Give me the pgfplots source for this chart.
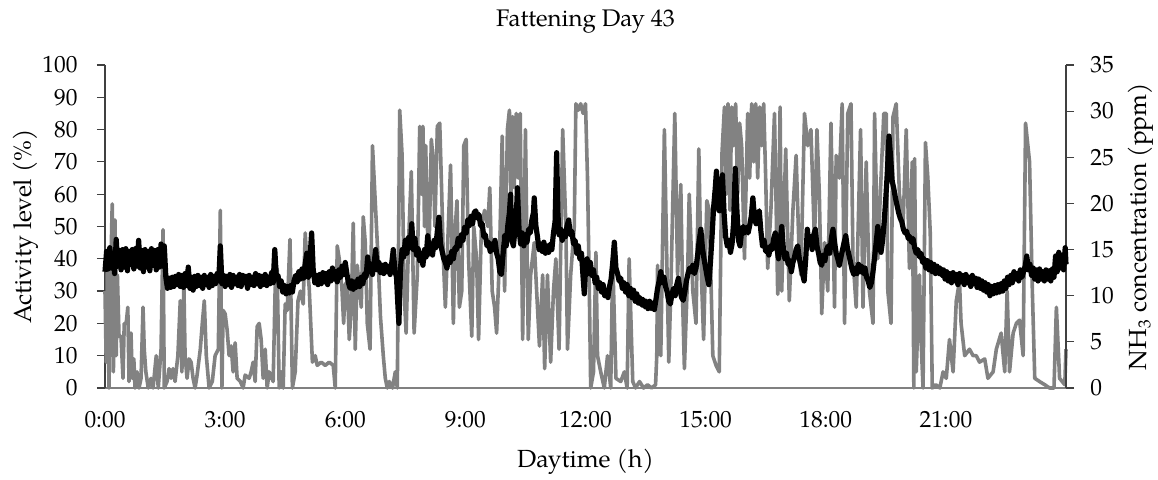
\documentclass[border=0pt]{standalone}
\usepackage{fontspec}
\setmainfont{TeX Gyre Pagella}
\usepackage{pgfplots}
\pgfplotsset{compat=1.18}
\usepackage{pgfplotstable}
\definecolor{actgray}{RGB}{130,130,130}

\pgfplotstableread{
h v
0.00 30
0.03 8
0.06 38
0.10 0
0.13 28
0.18 57
0.21 5
0.25 52
0.28 10
0.31 35
0.35 16
0.40 16
0.45 3
0.48 20
0.53 20
0.57 25
0.60 2
0.65 17
0.68 3
0.72 9
0.75 0
0.80 5
0.85 0
0.90 3
0.95 25
0.98 12
1.02 5
1.08 0
1.15 3
1.20 0
1.28 10
1.33 0
1.40 12
1.45 49
1.48 0
1.55 2
1.60 6
1.65 3
1.70 6
1.75 2
1.82 10
1.88 27
1.92 5
1.97 32
2.00 10
2.05 3
2.10 9
2.15 8
2.20 3
2.25 0
2.30 4
2.38 12
2.43 20
2.48 27
2.53 10
2.60 0
2.68 2
2.75 10
2.83 12
2.88 55
2.92 0
2.95 24
3.00 23
3.05 18
3.10 10
3.15 13
3.20 5
3.25 14
3.30 3
3.38 2
3.45 0
3.50 4
3.60 3
3.65 5
3.70 8
3.75 2
3.80 19
3.85 20
3.90 15
3.95 3
4.00 12
4.05 0
4.10 5
4.20 2
4.25 31
4.30 37
4.35 0
4.40 5
4.45 0
4.50 26
4.55 24
4.62 46
4.68 0
4.75 5
4.82 27
4.88 30
4.95 26
5.00 48
5.05 38
5.10 31
5.18 8
5.25 10
5.30 7
5.40 8
5.50 7
5.60 8
5.70 7
5.75 0
5.80 44
5.85 40
5.92 30
5.96 20
6.00 32
6.05 33
6.10 15
6.15 25
6.20 51
6.25 12
6.30 38
6.40 25
6.45 53
6.50 45
6.55 20
6.62 12
6.68 75
6.72 65
6.78 50
6.82 40
6.88 22
6.95 10
7.00 3
7.05 0
7.10 2
7.18 0
7.25 5
7.30 0
7.36 86
7.42 72
7.47 30
7.52 17
7.58 45
7.65 67
7.72 17
7.80 35
7.86 81
7.90 60
7.94 81
7.98 50
8.01 75
8.05 50
8.09 41
8.15 77
8.20 70
8.24 50
8.30 81
8.36 82
8.41 60
8.45 40
8.50 25
8.56 45
8.63 69
8.70 20
8.75 50
8.79 58
8.85 25
8.91 30
8.96 75
9.02 77
9.08 40
9.16 16
9.21 50
9.28 40
9.33 15
9.40 50
9.48 55
9.56 50
9.61 62
9.67 30
9.73 25
9.78 17
9.85 40
9.92 78
9.98 30
10.05 80
10.10 86
10.14 60
10.18 84
10.22 62
10.27 85
10.32 65
10.37 85
10.43 15
10.50 80
10.57 15
10.63 35
10.72 45
10.78 30
10.85 13
10.93 35
10.98 6
11.05 35
11.13 8
11.20 30
11.26 40
11.34 12
11.43 80
11.51 50
11.55 12
11.63 35
11.72 50
11.76 88
11.82 86
11.88 88
11.94 85
12.00 88
12.05 65
12.09 35
12.13 0
12.20 5
12.26 42
12.30 10
12.38 5
12.47 0
12.55 10
12.63 0
12.68 40
12.76 3
12.88 2
12.97 5
13.04 0
13.09 40
13.18 2
13.25 0
13.35 2
13.45 0
13.55 1
13.65 0
13.75 1
13.78 10
13.80 38
13.88 10
13.97 80
14.03 40
14.08 8
14.13 30
14.23 85
14.30 35
14.38 63
14.43 25
14.47 6
14.55 35
14.59 60
14.68 30
14.76 20
14.83 74
14.88 40
14.95 15
15.03 58
15.09 55
15.18 10
15.26 7
15.34 5
15.41 73
15.47 87
15.52 60
15.56 88
15.61 55
15.65 87
15.70 75
15.75 88
15.80 60
15.85 82
15.90 75
15.97 40
16.05 85
16.10 65
16.15 88
16.20 70
16.25 88
16.30 65
16.35 87
16.40 75
16.45 88
16.50 65
16.55 37
16.63 55
16.72 85
16.80 29
16.86 87
16.90 30
17.00 74
17.09 27
17.18 55
17.26 72
17.34 40
17.38 35
17.47 85
17.55 75
17.63 80
17.72 45
17.78 80
17.84 60
17.90 23
17.97 45
18.05 30
18.13 82
18.22 25
18.26 72
18.34 65
18.41 88
18.47 20
18.55 85
18.63 88
18.68 40
18.76 25
18.87 80
18.93 25
19.01 70
19.09 30
19.18 20
19.22 85
19.30 40
19.38 65
19.45 85
19.51 85
19.55 30
19.63 20
19.68 84
19.76 88
19.84 60
19.93 50
20.01 80
20.09 37
20.16 70
20.20 0
20.22 71
20.26 5
20.34 35
20.38 15
20.43 0
20.49 76
20.55 65
20.61 48
20.66 0
20.75 1
20.85 0
20.93 5
21.01 3
21.09 15
21.18 5
21.26 27
21.34 33
21.38 20
21.47 10
21.59 12
21.68 10
21.76 10
21.84 8
21.97 9
22.05 3
22.18 5
22.26 12
22.38 17
22.47 5
22.53 30
22.59 5
22.68 17
22.76 20
22.84 21
22.93 10
22.99 82
23.09 70
23.16 30
23.22 3
23.34 2
23.47 1
23.59 0
23.70 0
23.76 25
23.84 3
23.97 1
24.00 12
}\activity

\pgfplotstableread{
h c
0.00 12.6
0.04 14.8
0.08 12.9
0.12 15.2
0.16 13.0
0.20 14.6
0.24 12.4
0.28 16.1
0.32 13.2
0.36 14.9
0.40 12.8
0.44 15.0
0.48 13.1
0.52 15.1
0.56 12.7
0.60 14.8
0.64 13.4
0.68 15.0
0.72 12.9
0.76 15.1
0.80 13.2
0.84 16.0
0.88 13.0
0.92 14.9
0.96 12.6
1.00 15.0
1.04 13.1
1.08 14.8
1.12 12.7
1.16 15.1
1.20 13.3
1.24 14.9
1.28 12.8
1.32 15.0
1.36 13.1
1.40 15.6
1.44 13.2
1.48 15.4
1.52 12.0
1.56 10.8
1.60 11.9
1.64 10.9
1.68 12.0
1.72 11.0
1.76 12.1
1.80 11.2
1.84 12.3
1.88 11.0
1.92 12.2
1.96 10.9
2.00 12.4
2.04 11.1
2.08 13.1
2.12 10.8
2.16 12.0
2.20 10.6
2.24 12.1
2.28 11.0
2.32 12.2
2.36 11.1
2.40 12.0
2.44 10.8
2.48 12.2
2.52 11.2
2.56 12.0
2.60 10.9
2.64 12.3
2.68 11.1
2.72 12.1
2.76 11.3
2.80 12.4
2.84 11.6
2.88 15.4
2.92 11.3
2.96 12.2
3.00 11.0
3.04 12.1
3.08 11.2
3.12 12.3
3.16 10.9
3.20 12.2
3.24 11.3
3.28 12.0
3.32 11.1
3.36 12.3
3.40 11.0
3.44 12.2
3.48 11.4
3.52 12.1
3.56 10.8
3.60 12.2
3.64 11.2
3.68 12.0
3.72 11.1
3.76 12.4
3.80 11.3
3.84 12.2
3.88 11.0
3.92 12.1
3.96 11.2
4.00 12.3
4.04 11.1
4.08 12.0
4.12 11.3
4.16 12.5
4.20 11.4
4.24 15.0
4.28 11.9
4.32 12.2
4.36 11.0
4.40 11.6
4.44 10.4
4.48 11.1
4.52 10.2
4.56 11.0
4.60 10.3
4.64 11.1
4.68 10.4
4.72 11.6
4.76 12.2
4.80 11.5
4.84 12.6
4.88 11.8
4.92 12.9
4.96 11.9
5.00 13.5
5.04 14.6
5.08 12.0
5.12 14.0
5.16 16.8
5.20 12.8
5.24 11.4
5.28 12.2
5.32 11.2
5.36 12.3
5.40 11.3
5.44 12.5
5.48 11.5
5.52 12.4
5.56 11.2
5.60 12.6
5.64 11.6
5.68 13.0
5.72 11.8
5.76 12.6
5.80 11.5
5.84 12.8
5.88 12.0
5.92 13.2
5.96 12.3
6.00 13.6
6.04 12.4
6.08 11.4
6.12 10.8
6.16 11.6
6.20 10.7
6.24 11.5
6.28 10.9
6.32 11.8
6.36 11.0
6.40 12.0
6.44 11.3
6.48 12.4
6.52 12.0
6.56 14.2
6.60 12.6
6.64 13.4
6.68 12.3
6.72 13.5
6.76 15.0
6.80 12.8
6.84 13.6
6.88 12.5
6.92 13.3
6.96 12.4
7.00 13.4
7.04 12.6
7.08 13.2
7.12 12.3
7.16 13.5
7.20 15.0
7.24 12.7
7.28 12.0
7.32 8.5
7.34 7.0
7.38 13.0
7.42 15.0
7.46 14.2
7.50 16.0
7.54 14.6
7.58 16.3
7.62 15.2
7.66 17.8
7.70 15.0
7.74 16.2
7.78 14.4
7.82 15.1
7.86 13.8
7.90 14.6
7.94 13.3
7.98 15.0
8.02 14.2
8.06 16.5
8.10 14.6
8.14 15.6
8.18 14.4
8.22 16.0
8.26 15.2
8.30 17.0
8.34 18.5
8.38 15.6
8.42 14.8
8.46 14.0
8.50 13.6
8.54 13.0
8.58 14.2
8.62 13.6
8.66 14.8
8.70 14.0
8.74 15.2
8.78 15.0
8.82 16.2
8.86 15.4
8.90 16.6
8.94 16.0
8.98 17.4
9.02 16.8
9.06 18.2
9.10 17.6
9.14 18.6
9.18 17.8
9.22 19.0
9.26 19.2
9.30 18.4
9.34 18.8
9.38 17.6
9.42 17.8
9.46 16.4
9.50 16.6
9.54 15.4
9.58 15.8
9.62 14.8
9.66 15.6
9.70 15.0
9.74 16.0
9.78 14.6
9.82 14.0
9.86 12.6
9.90 12.3
9.94 14.4
9.98 16.5
10.02 15.4
10.06 17.6
10.10 19.0
10.13 21.0
10.16 16.0
10.20 15.4
10.24 17.2
10.28 19.5
10.30 21.7
10.34 17.2
10.38 15.6
10.42 16.8
10.46 15.4
10.50 16.6
10.54 15.8
10.58 17.2
10.62 16.8
10.66 18.2
10.70 19.0
10.72 20.6
10.76 17.6
10.80 16.4
10.84 15.0
10.88 15.6
10.92 14.8
10.96 15.8
11.00 14.6
11.04 15.4
11.08 14.7
11.12 15.6
11.16 15.0
11.20 16.8
11.24 18.0
11.28 25.5
11.31 19.0
11.34 16.6
11.38 17.2
11.42 16.0
11.46 17.0
11.50 16.4
11.54 17.6
11.58 18.2
11.62 16.6
11.66 17.0
11.70 15.6
11.74 16.0
11.78 14.6
11.82 15.4
11.86 14.0
11.90 14.6
11.94 12.0
11.97 10.2
12.00 12.8
12.04 14.0
12.08 12.4
12.12 13.6
12.16 12.2
12.20 12.8
12.24 11.4
12.28 12.0
12.32 10.8
12.36 11.4
12.40 10.4
12.44 11.2
12.48 10.0
12.52 10.6
12.56 9.8
12.60 11.0
12.64 11.8
12.68 13.6
12.72 15.8
12.76 13.0
12.80 12.4
12.84 11.6
12.88 11.9
12.92 10.8
12.96 11.4
13.00 10.4
13.04 11.2
13.08 10.0
13.12 10.8
13.16 9.8
13.20 10.6
13.24 9.4
13.28 10.2
13.32 9.2
13.36 9.8
13.40 9.0
13.44 9.6
13.48 8.8
13.52 9.4
13.56 8.6
13.60 9.4
13.64 8.6
13.68 9.2
13.72 8.5
13.76 9.6
13.80 10.8
13.84 11.6
13.88 12.6
13.92 11.4
13.96 12.0
14.00 11.0
14.04 10.4
14.08 9.4
14.12 9.1
14.16 10.2
14.20 10.8
14.24 10.0
14.28 11.2
14.32 11.9
14.36 10.6
14.40 9.8
14.44 9.5
14.48 10.4
14.52 11.6
14.56 12.4
14.60 13.0
14.64 12.6
14.68 13.3
14.72 12.4
14.76 13.0
14.80 14.4
14.84 16.0
14.88 17.2
14.92 15.2
14.96 14.0
15.00 13.0
15.04 12.0
15.08 11.2
15.12 13.6
15.16 16.4
15.20 19.6
15.24 21.6
15.27 23.5
15.30 20.0
15.34 19.2
15.38 21.0
15.42 23.1
15.46 19.0
15.50 16.4
15.54 15.4
15.58 16.0
15.62 14.7
15.66 15.6
15.70 18.0
15.74 23.8
15.78 19.4
15.82 16.0
15.86 15.4
15.90 17.0
15.94 17.5
15.98 16.8
16.02 17.4
16.06 16.8
16.10 17.6
16.14 18.6
16.18 20.6
16.22 18.4
16.26 17.8
16.30 18.8
16.34 19.2
16.38 17.0
16.42 15.4
16.46 16.0
16.50 14.8
16.54 15.2
16.58 14.4
16.62 15.4
16.66 15.0
16.70 16.2
16.74 16.8
16.78 15.2
16.82 14.0
16.86 15.8
16.90 17.5
16.94 15.2
16.98 14.0
17.02 14.6
17.06 13.4
17.10 13.8
17.14 12.6
17.18 13.6
17.22 14.2
17.26 15.0
17.30 15.4
17.34 14.0
17.38 13.2
17.42 12.4
17.46 11.6
17.50 14.0
17.54 17.2
17.58 15.6
17.62 16.4
17.66 15.0
17.70 16.6
17.74 17.2
17.78 15.4
17.82 14.6
17.86 13.6
17.90 13.3
17.94 14.4
17.98 13.8
18.02 15.0
18.06 15.4
18.10 14.6
18.14 16.2
18.18 17.2
18.22 15.8
18.26 14.6
18.30 14.0
18.34 13.3
18.38 14.2
18.42 15.0
18.46 15.8
18.50 16.5
18.54 15.2
18.58 14.4
18.62 13.6
18.66 12.8
18.70 12.3
18.74 13.0
18.78 12.4
18.82 13.4
18.86 12.6
18.90 13.2
18.94 12.4
18.98 13.0
19.02 12.0
19.06 11.6
19.10 10.9
19.14 11.4
19.18 12.6
19.22 14.2
19.26 15.8
19.30 17.5
19.34 15.6
19.38 14.7
19.42 16.0
19.46 18.0
19.50 20.6
19.54 23.5
19.58 27.3
19.62 25.0
19.66 22.4
19.70 21.6
19.74 20.6
19.78 19.8
19.82 19.0
19.86 18.4
19.90 18.0
19.94 17.2
19.98 16.8
20.02 17.0
20.06 16.2
20.10 16.4
20.14 15.8
20.18 16.2
20.22 15.2
20.26 14.6
20.30 15.0
20.34 14.2
20.38 14.6
20.42 13.6
20.46 14.0
20.50 13.0
20.54 13.8
20.58 12.8
20.62 13.6
20.66 12.6
20.70 13.4
20.74 12.4
20.78 13.2
20.82 12.4
20.86 13.0
20.90 12.2
20.94 12.8
20.98 11.8
21.02 12.6
21.06 11.6
21.10 12.4
21.14 11.4
21.18 12.5
21.22 11.6
21.26 12.3
21.30 11.2
21.34 12.4
21.38 11.5
21.42 12.2
21.46 11.2
21.50 12.3
21.54 11.4
21.58 12.0
21.62 11.0
21.66 12.2
21.70 11.3
21.74 11.9
21.78 10.9
21.82 11.8
21.86 10.8
21.90 11.6
21.94 10.6
21.98 11.4
22.02 10.4
22.06 11.2
22.10 10.0
22.14 11.0
22.18 10.2
22.22 11.1
22.26 10.3
22.30 11.2
22.34 10.4
22.38 11.3
22.42 10.5
22.46 11.6
22.50 10.8
22.54 12.0
22.58 11.2
22.62 12.2
22.66 11.4
22.70 12.6
22.74 11.8
22.78 12.4
22.82 11.6
22.86 12.8
22.90 12.0
22.94 12.6
22.98 13.2
23.02 14.3
23.06 12.8
23.10 13.4
23.14 12.2
23.18 13.0
23.22 11.8
23.26 12.8
23.30 11.6
23.34 12.9
23.38 11.8
23.42 12.6
23.46 11.6
23.50 12.8
23.54 11.8
23.58 12.7
23.62 11.6
23.66 12.9
23.70 12.0
23.74 14.3
23.78 12.6
23.82 14.7
23.86 13.0
23.90 14.4
23.94 12.8
23.98 15.2
24.00 13.4
}\ammonia

\begin{document}
\begin{tikzpicture}[font=\fontsize{11.7}{14}\selectfont]
\useasboundingbox (-52.5pt,-46pt) rectangle (526.5pt,194pt);
\begin{axis}[
  scale only axis, width=480.5pt, height=161.5pt,
  xmin=0, xmax=24, ymin=0, ymax=100,
  axis y line*=left, axis x line*=bottom,
  x axis line style={black!50, line width=0.6pt},
  y axis line style={black!75, line width=0.6pt},
  xtick={0,3,6,9,12,15,18,21},
  xticklabels={0:00,3:00,6:00,9:00,12:00,15:00,18:00,21:00},
  xtick style={draw=none},
  ytick={0,10,...,100},
  ytick style={black!75, line width=0.6pt},
  tick align=outside, major tick length=4pt,
  /pgf/number format/assume math mode=true,
  xticklabel style={anchor=center, inner sep=0pt, yshift=-12pt},
  yticklabel style={anchor=east, inner sep=0pt, xshift=-9.5pt},
  title={Fattening Day 43},
  every axis title shift=0pt,
  title style={at={(axis description cs:0.5,1.133)}, anchor=center, yshift=0pt, font=\fontsize{12}{14}\selectfont},
  xlabel={Daytime (h)},
  xlabel style={at={(axis description cs:0.5,-0.229)}, anchor=center, font=\fontsize{12.4}{15}\selectfont},
  ylabel={Activity level (\%)},
  ylabel style={at={(axis description cs:-0.082,0.5)}, anchor=center, rotate=0, font=\fontsize{12.4}{15}\selectfont},
  clip=false,
]
\addplot[draw=actgray, line width=1.8pt, line join=round] table[x=h, y=v] {\activity};
\end{axis}
\begin{axis}[
  scale only axis, width=480.5pt, height=161.5pt,
  xmin=0, xmax=24, ymin=0, ymax=35,
  axis y line*=right, axis x line=none,
  y axis line style={black!75, line width=0.6pt},
  ytick={0,5,...,35},
  ytick style={black!75, line width=0.6pt},
  tick align=outside, major tick length=4pt,
  /pgf/number format/assume math mode=true,
  yticklabel style={anchor=west, inner sep=0pt, xshift=8pt},
  ylabel={NH\textsubscript{3} concentration (ppm)},
  ylabel style={at={(axis description cs:1.078,0.5)}, anchor=center, rotate=0, font=\fontsize{12.4}{15}\selectfont},
  clip=false,
]
\addplot[draw=black, line width=2.6pt, line join=round] table[x=h, y=c] {\ammonia};
\end{axis}
\end{tikzpicture}
\end{document}
